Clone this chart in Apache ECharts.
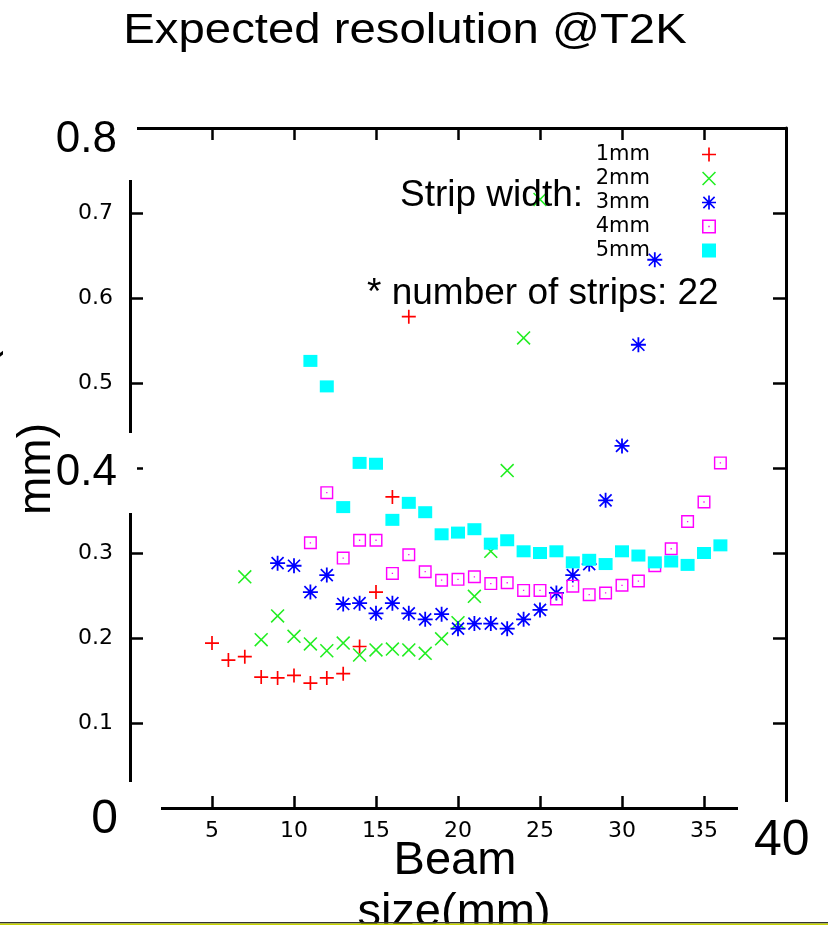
<!DOCTYPE html>
<html>
<head>
<meta charset="utf-8">
<script src="https://cdn.jsdelivr.net/npm/echarts@6/dist/echarts.min.js"></script>
<style>
html,body{margin:0;padding:0;background:#fff;}
#chart{width:828px;height:925px;}
</style>
</head>
<body>
<div id="chart"></div>
<script>
// ---- data ----
var seriesNames = ['1mm', '2mm', '3mm', '4mm', '5mm'];
var beam1mm = [5, 6, 7, 8, 9, 10, 11, 12, 13, 14, 15, 16, 17];
var res1mm = [0.194, 0.174, 0.178, 0.154, 0.153, 0.156, 0.147, 0.153, 0.158, 0.190, 0.254, 0.366, 0.578];
var beam2mm = [7, 8, 9, 10, 11, 12, 13, 14, 15, 16, 17, 18, 19, 20, 21, 22, 23, 24, 25];
var res2mm = [0.272, 0.198, 0.226, 0.202, 0.193, 0.185, 0.194, 0.180, 0.186, 0.187, 0.186, 0.182, 0.199, 0.218, 0.249, 0.302, 0.397, 0.553, 0.716];
var beam3mm = [9, 10, 11, 12, 13, 14, 15, 16, 17, 18, 19, 20, 21, 22, 23, 24, 25, 26, 27, 28, 29, 30, 31, 32];
var res3mm = [0.288, 0.285, 0.254, 0.274, 0.240, 0.241, 0.229, 0.241, 0.229, 0.222, 0.228, 0.211, 0.217, 0.217, 0.211, 0.222, 0.233, 0.253, 0.274, 0.287, 0.362, 0.426, 0.545, 0.645];
var beam4mm = [11, 12, 13, 14, 15, 16, 17, 18, 19, 20, 21, 22, 23, 24, 25, 26, 27, 28, 29, 30, 31, 32, 33, 34, 35, 36];
var res4mm = [0.312, 0.371, 0.294, 0.315, 0.315, 0.276, 0.298, 0.278, 0.268, 0.269, 0.272, 0.264, 0.265, 0.256, 0.256, 0.246, 0.261, 0.251, 0.253, 0.262, 0.267, 0.285, 0.305, 0.337, 0.360, 0.406];
var beam5mm = [11, 12, 13, 14, 15, 16, 17, 18, 19, 20, 21, 22, 23, 24, 25, 26, 27, 28, 29, 30, 31, 32, 33, 34, 35, 36];
var res5mm = [0.526, 0.496, 0.354, 0.406, 0.405, 0.339, 0.359, 0.348, 0.322, 0.324, 0.328, 0.311, 0.315, 0.302, 0.300, 0.302, 0.289, 0.292, 0.287, 0.302, 0.297, 0.289, 0.290, 0.286, 0.300, 0.309];
var xTicks = [0, 40, 5];     // min, max, interval
var yTicks = [0, 0.8, 0.1];  // min, max, interval

var titleText = 'Expected resolution @T2K';
var stripText = 'Strip width:';
var numText = '* number of strips: 22';

// ---- symbols (gnuplot style) ----
var symPlus = 'path://M4.4,0H5.6V10H4.4Z M0,4.4H10V5.6H0Z';
var symCross = 'path://M0,0.8L0.8,0L10,9.2L9.2,10Z M9.2,0L10,0.8L0.8,10L0,9.2Z';
var symStar = 'path://M4.4,0H5.6V10H4.4Z M0,4.4H10V5.6H0Z M0.6,1.4L1.4,0.6L9.4,8.6L8.6,9.4Z M8.6,0.6L9.4,1.4L1.4,9.4L0.6,8.6Z';
var symBox = 'path://M0,0H10V10H0Z M1.1,1.1V8.9H8.9V1.1Z M4.5,4.5H5.5V5.5H4.5Z';

function pairs(xs, ys) { return xs.map(function (x, i) { return [x, ys[i]]; }); }

var chart = echarts.init(document.getElementById('chart'), null, { renderer: 'canvas' });
var smallFont = 'DejaVu Sans';
var bigFont = 'Liberation Sans, Arial, sans-serif';

var axisCommon = {
  axisLine: { show: true, onZero: false, lineStyle: { color: '#000', width: 3 } },
  axisTick: { show: true, inside: true, length: 12, lineStyle: { color: '#000', width: 2.5 } },
  splitLine: { show: false }
};

var option = {
  backgroundColor: '#fff',
  animation: false,
  grid: { left: 130, top: 128, width: 656, height: 680, containLabel: false },
  legend: {
    orient: 'vertical', align: 'right', right: 107, top: 139,
    itemWidth: 14, itemHeight: 14, itemGap: 3, selectedMode: false,
    data: seriesNames,
    textStyle: { fontFamily: smallFont, fontSize: 21, color: '#000', padding: [0, 47, 0, 0] }
  },
  xAxis: [
    Object.assign({}, axisCommon, {
      type: 'value', min: xTicks[0], max: xTicks[1], interval: xTicks[2], position: 'bottom',
      axisLabel: { show: true, showMinLabel: false, showMaxLabel: false, margin: 12, color: '#000', fontFamily: smallFont, fontSize: 22 }
    }),
    Object.assign({}, axisCommon, {
      type: 'value', min: xTicks[0], max: xTicks[1], interval: xTicks[2], position: 'top',
      axisLabel: { show: false }
    })
  ],
  yAxis: [
    Object.assign({}, axisCommon, {
      type: 'value', min: yTicks[0], max: yTicks[1], interval: yTicks[2], position: 'left',
      axisTick: { show: true, inside: true, length: 13, lineStyle: { color: '#000', width: 2.5 } },
      axisLabel: { show: true, showMinLabel: false, showMaxLabel: false, margin: 17, color: '#000', fontFamily: smallFont, fontSize: 22,
        formatter: function (v) { return v.toFixed(1); } }
    }),
    Object.assign({}, axisCommon, {
      type: 'value', min: yTicks[0], max: yTicks[1], interval: yTicks[2], position: 'right',
      axisTick: { show: true, inside: true, length: 13, lineStyle: { color: '#000', width: 2.5 } },
      axisLabel: { show: false }
    })
  ],
  series: [
    { name: seriesNames[0], type: 'scatter', data: pairs(beam1mm, res1mm), symbol: symPlus, symbolSize: 14,
      itemStyle: { color: '#ff0000', opacity: 1 } },
    { name: seriesNames[1], type: 'scatter', data: pairs(beam2mm, res2mm), symbol: symCross, symbolSize: 14,
      itemStyle: { color: '#22ee22', opacity: 1 } },
    { name: seriesNames[2], type: 'scatter', data: pairs(beam3mm, res3mm), symbol: symStar, symbolSize: 15,
      itemStyle: { color: '#0000ff', opacity: 1 } },
    { name: seriesNames[3], type: 'scatter', data: pairs(beam4mm, res4mm), symbol: symBox, symbolSize: 13,
      itemStyle: { color: '#ff00ff', opacity: 1 } },
    { name: seriesNames[4], type: 'scatter', data: pairs(beam5mm, res5mm), symbol: 'rect', symbolSize: [14, 12],
      itemStyle: { color: '#00ffff', opacity: 1 } }
  ],
  graphic: [
    // white text boxes of the slide, covering parts of the plot frame
    { type: 'rect', z: 100, shape: { x: 0, y: 95, width: 137, height: 85 }, style: { fill: '#fff' } },
    { type: 'rect', z: 100, shape: { x: 0, y: 433, width: 137, height: 80 }, style: { fill: '#fff' } },
    { type: 'rect', z: 100, shape: { x: 0, y: 782, width: 161, height: 40 }, style: { fill: '#fff' } },
    { type: 'rect', z: 100, shape: { x: 738, y: 802, width: 90, height: 60 }, style: { fill: '#fff' } },
    // slide texts
    { type: 'text', z: 110, x: 405, y: 31, scaleX: 1.1,
      style: { text: titleText, font: '43px ' + bigFont, fill: '#000', textAlign: 'center', textVerticalAlign: 'middle' } },
    { type: 'text', z: 110, x: 400, y: 196,
      style: { text: stripText, font: '37px ' + bigFont, fill: '#000', textAlign: 'left', textVerticalAlign: 'middle' } },
    { type: 'text', z: 110, x: 367, y: 294,
      style: { text: numText, font: '37px ' + bigFont, fill: '#000', textAlign: 'left', textVerticalAlign: 'middle' } },
    { type: 'text', z: 110, x: 117, y: 140,
      style: { text: '0.8', font: '44px ' + bigFont, fill: '#000', textAlign: 'right', textVerticalAlign: 'middle' } },
    { type: 'text', z: 110, x: 117, y: 473,
      style: { text: '0.4', font: '44px ' + bigFont, fill: '#000', textAlign: 'right', textVerticalAlign: 'middle' } },
    { type: 'text', z: 110, x: 118, y: 820,
      style: { text: '0', font: '48px ' + bigFont, fill: '#000', textAlign: 'right', textVerticalAlign: 'middle' } },
    { type: 'text', z: 110, x: 754, y: 841,
      style: { text: '40', font: '50px ' + bigFont, fill: '#000', textAlign: 'left', textVerticalAlign: 'middle' } },
    { type: 'text', z: 110, x: 37, y: 469, rotation: Math.PI / 2,
      style: { text: 'mm)', font: '46px ' + bigFont, fill: '#000', textAlign: 'center', textVerticalAlign: 'middle' } },
    { type: 'text', z: 110, x: -20, y: 358, rotation: Math.PI / 2,
      style: { text: '(', font: '46px ' + bigFont, fill: '#000', textAlign: 'center', textVerticalAlign: 'middle' } },
    { type: 'text', z: 110, x: 455, y: 861,
      style: { text: 'Beam', font: '47px ' + bigFont, fill: '#000', textAlign: 'center', textVerticalAlign: 'middle' } },
    { type: 'text', z: 110, x: 454, y: 913,
      style: { text: 'size(mm)', font: '47px ' + bigFont, fill: '#000', textAlign: 'center', textVerticalAlign: 'middle' } },
    // slide footer bar
    { type: 'rect', z: 120, shape: { x: 0, y: 922, width: 828, height: 1.6 }, style: { fill: '#333333' } },
    { type: 'rect', z: 120, shape: { x: 0, y: 923.6, width: 828, height: 1.4 }, style: { fill: '#c8d400' } }
  ]
};
chart.setOption(option);
</script>
</body>
</html>
